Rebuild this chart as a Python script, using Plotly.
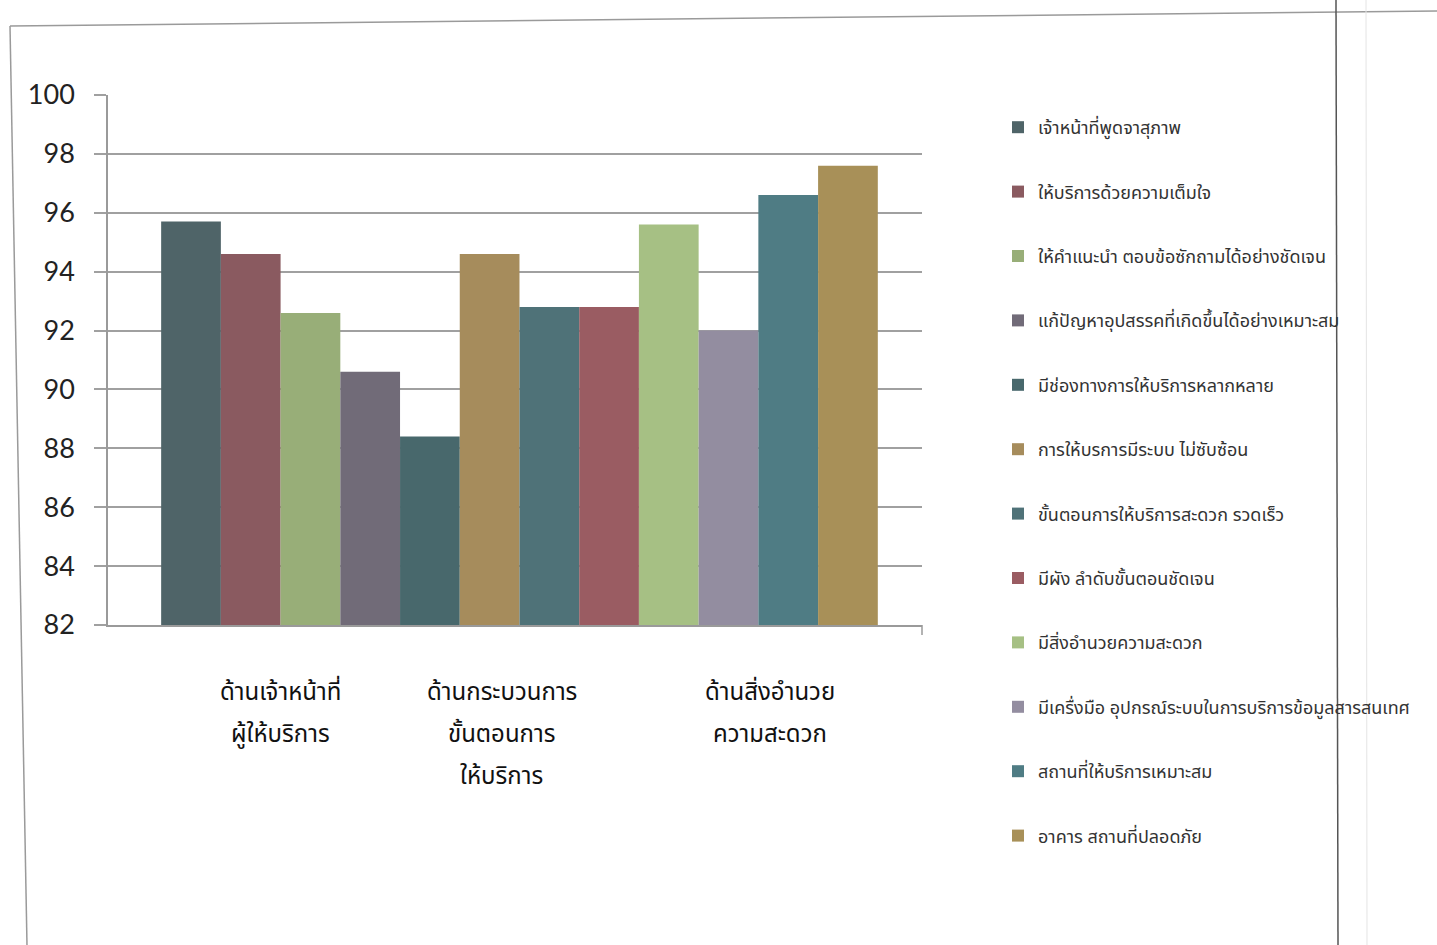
import plotly.graph_objects as go

# ---- data ----
series_names = [
    "เจ้าหน้าที่พูดจาสุภาพ",
    "ให้บริการด้วยความเต็มใจ",
    "ให้คำแนะนำ ตอบข้อซักถามได้อย่างชัดเจน",
    "แก้ปัญหาอุปสรรคที่เกิดขึ้นได้อย่างเหมาะสม",
    "มีช่องทางการให้บริการหลากหลาย",
    "การให้บรการมีระบบ ไม่ซับซ้อน",
    "ขั้นตอนการให้บริการสะดวก รวดเร็ว",
    "มีผัง ลำดับขั้นตอนชัดเจน",
    "มีสิ่งอำนวยความสะดวก",
    "มีเครื่งมือ อุปกรณ์ระบบในการบริการข้อมูลสารสนเทศ",
    "สถานที่ให้บริการเหมาะสม",
    "อาคาร สถานที่ปลอดภัย",
]
values = [95.7, 94.6, 92.6, 90.6, 88.4, 94.6, 92.8, 92.8, 95.6, 92.0, 96.6, 97.6]
category_labels = [
    ["ด้านเจ้าหน้าที่", "ผู้ให้บริการ"],
    ["ด้านกระบวนการ", "ขั้นตอนการ", "ให้บริการ"],
    ["ด้านสิ่งอำนวย", "ความสะดวก"],
]
y_ticks = [82, 84, 86, 88, 90, 92, 94, 96, 98, 100]

# ---- styles ----
colors = ["#4f6468", "#8a5a60", "#98ae78", "#716b78", "#48686c", "#a68c5c",
          "#4f7278", "#9a5c62", "#a6c084", "#938da0", "#4f7c84", "#a89058"]
label_centers = [1.49, 5.2, 9.69]
THAI = "Noto Sans Thai, Noto Sans, Tahoma, sans-serif"

W, H = 1437, 945
L, R, T, B = 108, 922, 95, 625


def px(xp):
    return (xp - L) / (R - L)


def py(yp):
    return (B - yp) / (B - T)


fig = go.Figure()
for i, (name, v) in enumerate(zip(series_names, values)):
    fig.add_trace(go.Bar(
        x=[i], y=[v], name=name, width=1.0,
        marker=dict(color=colors[i], line=dict(width=0)),
        legendgroup=f"g{i}",
    ))

annotations = []
for c, lines in zip(label_centers, category_labels):
    for j, line in enumerate(lines):
        annotations.append(dict(
            x=c, y=0, xref="x", yref="paper", text=line, showarrow=False,
            xanchor="center", yanchor="middle", yshift=-(68 + 42 * j),
            font=dict(family=THAI, size=24, color="#111"),
        ))

shapes = [
    # page frame (scanned border)
    dict(type="line", xref="paper", yref="paper", x0=px(10), y0=py(26), x1=px(1437), y1=py(11),
         line=dict(color="#9a9a9a", width=1.5)),
    dict(type="line", xref="paper", yref="paper", x0=px(10), y0=py(26), x1=px(27), y1=py(945),
         line=dict(color="#9a9a9a", width=1.5)),
    dict(type="line", xref="paper", yref="paper", x0=px(1336), y0=py(0), x1=px(1338), y1=py(945),
         line=dict(color="#555", width=1.5)),
    dict(type="line", xref="paper", yref="paper", x0=px(1366), y0=py(0), x1=px(1367), y1=py(945),
         line=dict(color="#e4e4e4", width=1)),
    # right end tick of category axis
    dict(type="line", xref="paper", yref="paper", x0=1, y0=0, x1=1, y1=py(635),
         line=dict(color="#9a9a9a", width=1.5)),
]

fig.update_layout(
    width=W, height=H,
    margin=dict(l=L, r=W - R, t=T, b=H - B, pad=0),
    paper_bgcolor="white", plot_bgcolor="white",
    barmode="overlay",
    showlegend=True,
    legend=dict(
        x=px(998), y=py(109), xanchor="left", yanchor="top",
        font=dict(family=THAI, size=18, color="#333"),
        tracegroupgap=38, bgcolor="rgba(0,0,0,0)",
        maxheight=900,
    ),
    xaxis=dict(
        range=[-1.39, 12.24], showgrid=False, zeroline=False,
        showline=True, linecolor="#9a9a9a", linewidth=1.5,
        showticklabels=False, ticks="",
    ),
    yaxis=dict(
        range=[82, 100], tickvals=y_ticks,
        showgrid=True, gridcolor="#a0a0a0", gridwidth=1.5,
        showline=True, linecolor="#9a9a9a", linewidth=1.5,
        ticks="outside", ticklen=12, tickcolor="#a0a0a0", tickwidth=1.5,
        zeroline=False,
        tickfont=dict(family="Lato, Open Sans, sans-serif", size=27, color="#222"),
        ticklabelstandoff=14,
    ),
    annotations=annotations,
    shapes=shapes,
)

fig.write_html("out.html")
